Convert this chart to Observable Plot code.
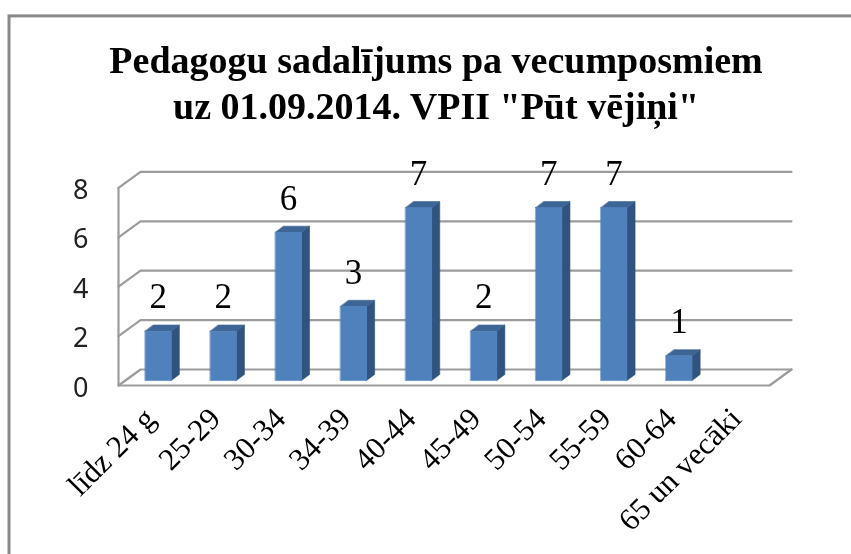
<!DOCTYPE html>
<html><head><meta charset="utf-8">
<script src="https://cdn.jsdelivr.net/npm/d3@7"></script>
<script src="https://cdn.jsdelivr.net/npm/@observablehq/plot@0.6"></script>
<style>html,body{margin:0;padding:0;background:#fff}svg{display:block;filter:blur(.45px)}</style>
</head><body><div id="chart"></div>
<script>
const titleText = 'Pedagogu sadalījums pa vecumposmiem\nuz 01.09.2014. VPII "Pūt vējiņi"';
const categories = ["līdz 24 g","25-29","30-34","34-39","40-44","45-49","50-54","55-59","60-64","65 un vecāki"];
const values = [2,2,6,3,7,2,7,7,1,null];
const yTicks = [0,2,4,6,8];

// projection of the pseudo-3D chart, in data units
const wallDx = 0.338, wallDy = 0.648;
const barX = 0.41, barW = 0.40, barLift = 0.2, barDx = 0.125, barDy = 0.25;
const nCat = categories.length;

const wallLines = [];
yTicks.forEach(v => {
  wallLines.push({k:"g"+v,x:0,y:v},{k:"g"+v,x:wallDx,y:v+wallDy},{k:"g"+v,x:nCat+wallDx,y:v+wallDy});
});
wallLines.push({k:"front",x:0,y:8},{k:"front",x:0,y:0},{k:"front",x:nCat,y:0},{k:"front",x:nCat+wallDx,y:wallDy});

const bars = values.map((v,i)=>({i,v,cat:categories[i]})).filter(d=>d.v!=null);
const face = (fn) => bars.flatMap(d => fn(d).map(([x,y])=>({k:d.i,x,y})));
const x0 = d => d.i+barX, x1 = d => d.i+barX+barW, yb = barLift, yt = d => d.v+barLift;
const frontFace = face(d=>[[x0(d),yb],[x1(d),yb],[x1(d),yt(d)],[x0(d),yt(d)]]);
const sideFace  = face(d=>[[x1(d),yb],[x1(d)+barDx,yb+barDy],[x1(d)+barDx,yt(d)+barDy],[x1(d),yt(d)]]);
const topFace   = face(d=>[[x0(d),yt(d)],[x1(d),yt(d)],[x1(d)+barDx,yt(d)+barDy],[x0(d)+barDx,yt(d)+barDy]]);

const poly = (data,fill) => Plot.line(data,{x:"x",y:"y",z:"k",fill,stroke:fill,strokeWidth:.6,curve:"linear-closed"});

const chart = Plot.plot({
  width:851, height:554,
  marginLeft:118, marginRight:82, marginTop:187.4, marginBottom:169,
  style:{fontFamily:"'Liberation Serif',serif",color:"#000",background:"#fff"},
  x:{type:"linear",domain:[0,nCat]},
  y:{domain:[0,8]},
  marks:[
    Plot.line(wallLines,{x:"x",y:"y",z:"k",stroke:"#9c9c9c",strokeWidth:2.2,clip:false}),
    poly(sideFace,"#30547f"),
    poly(topFace,"#3d6595"),
    poly(frontFace,"#4f81bd"),
    Plot.text(bars,{x:d=>x0(d)+barW/2,y:yt,text:"v",dy:-34,fontSize:35,fill:"#000"}),
    Plot.axisY({ticks:yTicks,tickSize:0,tickPadding:30,fontSize:27,fontFamily:"'Noto Sans',sans-serif",fill:"#222",dy:2.5,label:null}),
    Plot.axisX({ticks:d3.range(nCat).map(i=>i+.5),tickFormat:t=>categories[t-.5],tickSize:0,tickPadding:0,tickRotate:-45,textAnchor:"end",fontSize:31,label:null,dx:-1,dy:28}),
    Plot.text([titleText],{frameAnchor:"top",text:d=>d,dx:-8,dy:-148,fontSize:38,fontWeight:"bold",lineHeight:1.22,lineAnchor:"top",fill:"#000"}),
    Plot.frame({stroke:"#8a8a8a",strokeWidth:3,insetLeft:-109.5,insetTop:-172,insetRight:-200,insetBottom:-200})
  ]
});
document.getElementById("chart").append(chart);
</script></body></html>
